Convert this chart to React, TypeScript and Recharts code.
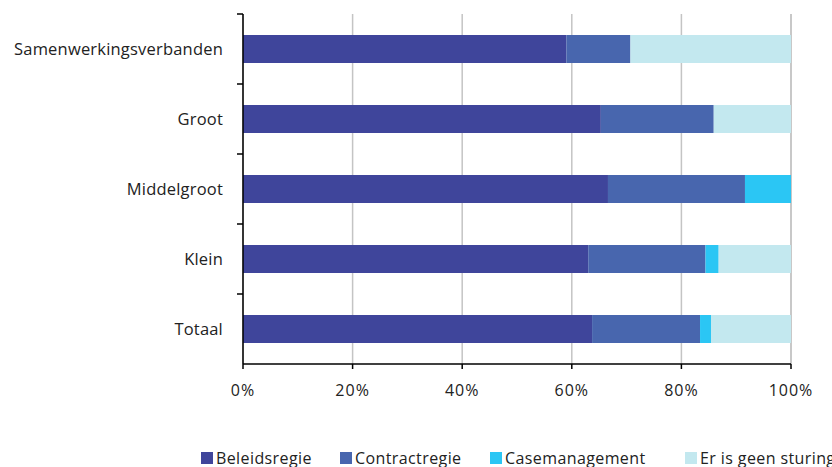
import React from "react";
import { BarChart, Bar, XAxis, YAxis, CartesianGrid, Legend } from "recharts";

const categories = ["Samenwerkingsverbanden", "Groot", "Middelgroot", "Klein", "Totaal"];
const beleidsregie = [59.0, 65.3, 66.6, 63.0, 63.7];
const contractregie = [11.7, 20.6, 25.0, 21.4, 19.7];
const casemanagement = [0, 0, 8.4, 2.4, 2.0];
const geenSturing = [29.3, 14.1, 0, 13.2, 14.6];
const xTicks = [0, 20, 40, 60, 80, 100];

const seriesNames = ["Beleidsregie", "Contractregie", "Casemanagement", "Er is geen sturing"];
const colors = ["#3F459B", "#4866AE", "#2BC6F4", "#C3E8EF"];

const data = categories.map((c, i) => ({
  name: c,
  b: beleidsregie[i],
  c: contractregie[i],
  m: casemanagement[i],
  g: geenSturing[i],
}));

const FONT = "'Open Sans', 'Noto Sans', sans-serif";

const YTick = (props: any) => {
  const { x, y, payload } = props;
  return (
    <g>
      <line x1={x + 2} x2={x + 8} y1={y - 35} y2={y - 35} stroke="#000" strokeWidth={1.5} />
      <text x={x - 12} y={y} dy="0.35em" textAnchor="end" fill="#222" fontSize={16.5} letterSpacing={0.2} fontFamily={FONT}>
        {payload.value}
      </text>
    </g>
  );
};

const LegendContent = () => (
  <div style={{ position: "relative", height: 53, fontFamily: FONT, fontSize: 16, color: "#222" }}>
    {seriesNames.map((n, i) => (
      <div
        key={n}
        style={{ position: "absolute", left: [201, 340, 490, 685][i], top: 33, display: "flex", alignItems: "center", whiteSpace: "nowrap", letterSpacing: 0.4 }}
      >
        <span style={{ display: "inline-block", width: 12, height: 12, background: colors[i], marginRight: 3 }} />
        <span>{n}</span>
      </div>
    ))}
  </div>
);

export default function App() {
  return (
    <div style={{ position: "absolute", left: 0, top: 0, width: 832, height: 467, background: "#fff", overflow: "hidden" }}>
      <BarChart
        width={832}
        height={467}
        data={data}
        layout="vertical"
        margin={{ top: 14, right: 41, left: 0, bottom: 0 }}
        barSize={28}
      >
        <CartesianGrid horizontal={false} stroke="#c4c4c4" strokeWidth={1.5} />
        <XAxis
          type="number"
          domain={[0, 100]}
          ticks={xTicks}
          tickFormatter={(v: number) => `${v}%`}
          axisLine={{ stroke: "#000", strokeWidth: 1.5 }}
          tickLine={{ stroke: "#000", strokeWidth: 1.5 }}
          tickSize={5}
          tickMargin={16}
          height={50}
          tick={{ fill: "#222", fontSize: 16, fontFamily: FONT, letterSpacing: 1 }}
        />
        <YAxis
          type="category"
          dataKey="name"
          width={243}
          axisLine={{ stroke: "#000", strokeWidth: 1.5 }}
          tickLine={false}
          tick={<YTick />}
          interval={0}
        />
        <Legend verticalAlign="bottom" height={53} content={<LegendContent />} />
        <Bar dataKey="b" stackId="s" fill={colors[0]} isAnimationActive={false} name={seriesNames[0]} />
        <Bar dataKey="c" stackId="s" fill={colors[1]} isAnimationActive={false} name={seriesNames[1]} />
        <Bar dataKey="m" stackId="s" fill={colors[2]} isAnimationActive={false} name={seriesNames[2]} />
        <Bar dataKey="g" stackId="s" fill={colors[3]} isAnimationActive={false} name={seriesNames[3]} />
      </BarChart>
    </div>
  );
}
